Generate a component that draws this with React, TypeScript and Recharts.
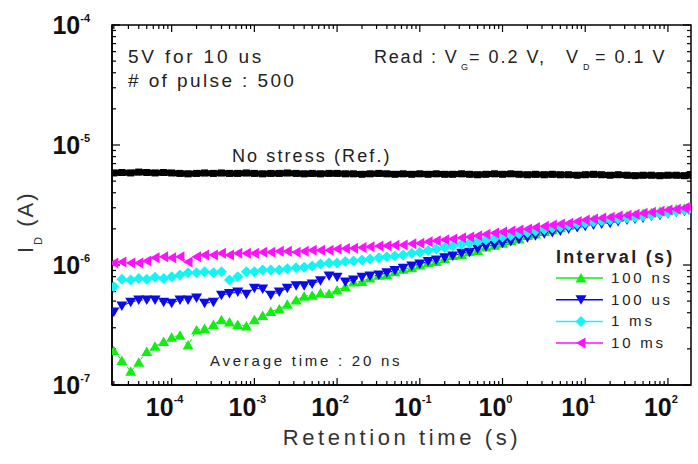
import React from "react";
import { LineChart, Line, XAxis, YAxis, Customized } from "recharts";

// retention time (s), roughly 10 points per decade
const times = [
  2e-5, 2.5e-5, 3.2e-5, 4e-5, 5e-5, 6.3e-5, 8e-5,
  1e-4, 1.26e-4, 1.58e-4, 2e-4, 2.5e-4, 3.2e-4, 4e-4, 5e-4, 6.3e-4, 8e-4,
  1e-3, 1.26e-3, 1.58e-3, 2e-3, 2.5e-3, 3.2e-3, 4e-3, 5e-3, 6.3e-3, 8e-3,
  1e-2, 1.26e-2, 1.58e-2, 2e-2, 2.5e-2, 3.2e-2, 4e-2, 5e-2, 6.3e-2, 8e-2,
  1e-1, 1.26e-1, 1.58e-1, 2e-1, 2.5e-1, 3.2e-1, 4e-1, 5e-1, 6.3e-1, 8e-1,
  1, 1.26, 1.58, 2, 2.5, 3.2, 4, 5, 6.3, 8,
  10, 12.6, 15.8, 20, 25, 32, 40, 50, 63, 80,
  100, 126, 158, 180,
];

const refNoStress = [
  5.85e-6, 5.9e-6, 5.85e-6, 5.95e-6, 5.9e-6, 5.85e-6, 5.9e-6,
  5.85e-6, 5.8e-6, 5.75e-6, 5.8e-6, 5.85e-6, 5.8e-6, 5.85e-6, 5.8e-6, 5.8e-6, 5.85e-6,
  5.8e-6, 5.75e-6, 5.8e-6, 5.8e-6, 5.85e-6, 5.8e-6, 5.75e-6, 5.8e-6, 5.75e-6, 5.8e-6,
  5.8e-6, 5.75e-6, 5.75e-6, 5.7e-6, 5.75e-6, 5.8e-6, 5.75e-6, 5.7e-6, 5.75e-6, 5.7e-6,
  5.75e-6, 5.7e-6, 5.75e-6, 5.7e-6, 5.7e-6, 5.75e-6, 5.7e-6, 5.65e-6, 5.7e-6, 5.75e-6,
  5.7e-6, 5.75e-6, 5.7e-6, 5.65e-6, 5.7e-6, 5.65e-6, 5.7e-6, 5.65e-6, 5.65e-6, 5.6e-6,
  5.65e-6, 5.7e-6, 5.65e-6, 5.6e-6, 5.65e-6, 5.6e-6, 5.55e-6, 5.6e-6, 5.6e-6, 5.55e-6,
  5.6e-6, 5.6e-6, 5.55e-6, 5.6e-6,
];

const int100ns = [
  1.93e-7, 1.6e-7, 1.3e-7, 1.55e-7, 1.9e-7, 2.1e-7, 2.3e-7,
  2.5e-7, 2.6e-7, 2.15e-7, 2.87e-7, 2.95e-7, 3.2e-7, 3.5e-7, 3.35e-7, 3.2e-7, 3.1e-7,
  3.5e-7, 3.8e-7, 4.1e-7, 4.3e-7, 4.7e-7, 5.1e-7, 5.5e-7, 5.6e-7, 5.85e-7, 5.8e-7,
  6.2e-7, 6.6e-7, 7.2e-7, 7.3e-7, 7.8e-7, 8.2e-7, 8.3e-7, 8.8e-7, 9.2e-7, 9.5e-7,
  1.0e-6, 1.05e-6, 1.07e-6, 1.13e-6, 1.2e-6, 1.22e-6, 1.29e-6, 1.32e-6, 1.41e-6, 1.46e-6,
  1.52e-6, 1.6e-6, 1.65e-6, 1.76e-6, 1.81e-6, 1.9e-6, 1.97e-6, 2.04e-6, 2.13e-6, 2.2e-6,
  2.3e-6, 2.38e-6, 2.41e-6, 2.47e-6, 2.5e-6, 2.57e-6, 2.61e-6, 2.69e-6, 2.72e-6, 2.81e-6,
  2.86e-6, 2.93e-6, 2.97e-6, 3.05e-6,
];

const int100us = [
  4.05e-7, 4.55e-7, 4.9e-7, 5.1e-7, 5.1e-7, 5.1e-7, 4.9e-7,
  4.8e-7, 5.1e-7, 5.1e-7, 5.3e-7, 4.8e-7, 4.9e-7, 5.6e-7, 5.8e-7, 5.95e-7, 5.7e-7,
  6.4e-7, 6.3e-7, 5.6e-7, 5.95e-7, 6.4e-7, 6.7e-7, 6.7e-7, 6.95e-7, 7.4e-7, 8.1e-7,
  7.9e-7, 7.2e-7, 7.5e-7, 7.9e-7, 8.1e-7, 8.25e-7, 8.6e-7, 9.0e-7, 9.4e-7, 9.8e-7,
  1.02e-6, 1.07e-6, 1.1e-6, 1.15e-6, 1.19e-6, 1.25e-6, 1.28e-6, 1.36e-6, 1.42e-6, 1.47e-6,
  1.52e-6, 1.57e-6, 1.64e-6, 1.69e-6, 1.75e-6, 1.82e-6, 1.87e-6, 1.92e-6, 2.0e-6, 2.05e-6,
  2.1e-6, 2.15e-6, 2.2e-6, 2.23e-6, 2.3e-6, 2.37e-6, 2.42e-6, 2.46e-6, 2.55e-6, 2.6e-6,
  2.68e-6, 2.75e-6, 2.8e-6, 2.87e-6,
];

const int1ms = [
  6.6e-7, 7.6e-7, 7.5e-7, 7.7e-7, 7.6e-7, 7.9e-7, 7.7e-7,
  8.0e-7, 8.25e-7, 8.6e-7, 8.6e-7, 8.8e-7, 8.6e-7, 8.8e-7, 7.5e-7, 8.0e-7, 8.8e-7,
  8.8e-7, 9.1e-7, 9.1e-7, 9.1e-7, 9.3e-7, 9.5e-7, 9.6e-7, 9.8e-7, 1.02e-6, 1.04e-6,
  1.04e-6, 1.07e-6, 1.08e-6, 1.1e-6, 1.12e-6, 1.15e-6, 1.17e-6, 1.19e-6, 1.21e-6, 1.25e-6,
  1.28e-6, 1.32e-6, 1.36e-6, 1.4e-6, 1.44e-6, 1.49e-6, 1.52e-6, 1.57e-6, 1.62e-6, 1.66e-6,
  1.71e-6, 1.76e-6, 1.82e-6, 1.87e-6, 1.92e-6, 1.98e-6, 2.03e-6, 2.07e-6, 2.13e-6, 2.2e-6,
  2.23e-6, 2.28e-6, 2.33e-6, 2.37e-6, 2.42e-6, 2.46e-6, 2.5e-6, 2.56e-6, 2.6e-6, 2.68e-6,
  2.73e-6, 2.8e-6, 2.87e-6, 2.92e-6,
];

const int10ms = [
  1.04e-6, 1.06e-6, 1.04e-6, 1.04e-6, 1.08e-6, 1.15e-6, 1.17e-6,
  1.15e-6, 1.17e-6, 1.06e-6, 1.17e-6, 1.21e-6, 1.21e-6, 1.25e-6, 1.21e-6, 1.25e-6, 1.25e-6,
  1.25e-6, 1.28e-6, 1.28e-6, 1.3e-6, 1.3e-6, 1.28e-6, 1.3e-6, 1.33e-6, 1.33e-6, 1.33e-6,
  1.36e-6, 1.37e-6, 1.38e-6, 1.4e-6, 1.42e-6, 1.44e-6, 1.45e-6, 1.46e-6, 1.47e-6, 1.5e-6,
  1.52e-6, 1.56e-6, 1.59e-6, 1.62e-6, 1.65e-6, 1.69e-6, 1.71e-6, 1.75e-6, 1.8e-6, 1.85e-6,
  1.88e-6, 1.92e-6, 1.96e-6, 2.0e-6, 2.05e-6, 2.1e-6, 2.15e-6, 2.2e-6, 2.23e-6, 2.3e-6,
  2.37e-6, 2.42e-6, 2.46e-6, 2.5e-6, 2.56e-6, 2.6e-6, 2.65e-6, 2.7e-6, 2.75e-6, 2.8e-6,
  2.87e-6, 2.92e-6, 2.98e-6, 3.04e-6,
];

const legendItems = [
  { key: "ns100", label: "100 ns", color: "#11ee11", shape: "up" },
  { key: "us100", label: "100 us", color: "#0a0aee", shape: "down" },
  { key: "ms1", label: "1 ms", color: "#11f5f5", shape: "diamond" },
  { key: "ms10", label: "10 ms", color: "#ff11ff", shape: "left" },
];

const xDomain = [1.9e-5, 190];
const yDomain = [1e-7, 1e-4];

// plot box (chart margins + axis sizes)
const BOX = { left: 112, top: 25, width: 579, height: 360 };

const withMinor = (lo: number, hi: number, dMin: number, dMax: number) => {
  const out: number[] = [];
  for (let d = dMin; d <= dMax; d++) {
    for (let m = 1; m <= 9; m++) {
      const v = Number((m * Math.pow(10, d)).toPrecision(6));
      if (v >= lo && v <= hi) out.push(v);
    }
  }
  return out;
};
const xTicks = withMinor(xDomain[0], xDomain[1], -5, 2);
const yTicks = withMinor(yDomain[0], yDomain[1], -7, -4);

const rows = times.map((t, i) => ({
  t,
  noStress: refNoStress[i],
  ns100: int100ns[i],
  us100: int100us[i],
  ms1: int1ms[i],
  ms10: int10ms[i],
}));

const FONT = "'Liberation Sans', Arial, sans-serif";
const isMajor = (v: number) => Math.abs(Math.log10(v) - Math.round(Math.log10(v))) < 1e-6;
const expOf = (v: number) => Math.round(Math.log10(v));

function markerPath(shape: string, cx: number, cy: number) {
  switch (shape) {
    case "up":
      return `M${cx - 5.5},${cy + 4.5} L${cx + 5.5},${cy + 4.5} L${cx},${cy - 5} Z`;
    case "down":
      return `M${cx - 5.5},${cy - 4.5} L${cx + 5.5},${cy - 4.5} L${cx},${cy + 5} Z`;
    case "diamond":
      return `M${cx},${cy - 5.5} L${cx + 5.5},${cy} L${cx},${cy + 5.5} L${cx - 5.5},${cy} Z`;
    default:
      return `M${cx - 5},${cy} L${cx + 4.5},${cy - 5.5} L${cx + 4.5},${cy + 5.5} Z`;
  }
}

const makeDot = (shape: string, color: string) => (p: any) => (
  <path key={`${shape}-${p.index}`} d={markerPath(shape, p.cx, p.cy)} fill={color} />
);

const squareDot = (p: any) => (
  <rect key={`sq-${p.index}`} x={p.cx - 3.5} y={p.cy - 3.5} width={7} height={7} fill="#000" />
);

function BottomTick({ x, y, payload }: any) {
  const v = payload.value;
  if (!isMajor(v)) return <g />;
  return (
    <text x={x - 7} y={y + 31} textAnchor="middle" fontFamily={FONT} fontWeight="bold" fontSize={25} fill="#111">
      10
      <tspan fontSize={11} dy={-13}>{expOf(v)}</tspan>
    </text>
  );
}

function LeftTick({ x, y, payload }: any) {
  const v = payload.value;
  if (!isMajor(v)) return <g />;
  return (
    <text x={x - 22} y={y + 9} textAnchor="end" fontFamily={FONT} fontWeight="bold" fontSize={25} fill="#111">
      10
      <tspan fontSize={11} dy={-12}>{expOf(v)}</tspan>
    </text>
  );
}

// log position inside the plot box, same mapping as the axes' log scales
const xPos = (v: number) =>
  BOX.left + (BOX.width * (Math.log10(v) - Math.log10(xDomain[0]))) / (Math.log10(xDomain[1]) - Math.log10(xDomain[0]));
const yPos = (v: number) =>
  BOX.top + BOX.height - (BOX.height * (Math.log10(v) - Math.log10(yDomain[0]))) / (Math.log10(yDomain[1]) - Math.log10(yDomain[0]));

function Frame() {
  const bottom = BOX.top + BOX.height;
  const right = BOX.left + BOX.width;
  return (
    <g>
      <rect x={BOX.left} y={BOX.top} width={BOX.width} height={BOX.height} fill="none" stroke="#000" strokeWidth={1.5} />
      {xTicks.map((v) => {
        const x = xPos(v);
        const len = isMajor(v) ? 7 : 4;
        return (
          <g key={`xt-${v}`}>
            <line x1={x} x2={x} y1={bottom} y2={bottom - len} stroke="#000" strokeWidth={1.2} />
            <line x1={x} x2={x} y1={BOX.top} y2={BOX.top + len} stroke="#000" strokeWidth={1.2} />
          </g>
        );
      })}
      {yTicks.map((v) => {
        const y = yPos(v);
        const len = isMajor(v) ? 8 : 4;
        return (
          <g key={`yt-${v}`}>
            <line x1={BOX.left} x2={BOX.left + len} y1={y} y2={y} stroke="#000" strokeWidth={1.2} />
            <line x1={right} x2={right - len} y1={y} y2={y} stroke="#000" strokeWidth={1.2} />
          </g>
        );
      })}
    </g>
  );
}

function Annotations() {
  const txt = { fontFamily: FONT, fill: "#222" } as const;
  return (
    <g>
      <Frame />
      <text x={128} y={63} fontSize={19} letterSpacing={2.8} {...txt}>5V for 10 us</text>
      <text x={128} y={87} fontSize={19} letterSpacing={2.4} {...txt}># of pulse : 500</text>

      <text x={374} y={63} fontSize={18} letterSpacing={1.8} {...txt}>Read : V</text>
      <text x={461} y={70} fontSize={9} {...txt}>G</text>
      <text x={469} y={63} fontSize={18} letterSpacing={2} {...txt}>= 0.2 V,</text>
      <text x={566} y={63} fontSize={18} {...txt}>V</text>
      <text x={583} y={70} fontSize={9} {...txt}>D</text>
      <text x={595} y={63} fontSize={18} letterSpacing={2} {...txt}>= 0.1 V</text>

      <text x={232} y={162} fontSize={18} letterSpacing={2.1} {...txt}>No stress (Ref.)</text>
      <text x={210} y={366} fontSize={15} letterSpacing={2.75} {...txt}>Average time : 20 ns</text>

      <text x={556} y={263} fontSize={18} fontWeight="bold" letterSpacing={2.3} {...txt}>Interval (s)</text>
      {legendItems.map((it, i) => {
        const cy = 278 + i * 21.7;
        return (
          <g key={it.key}>
            <line x1={556} x2={603} y1={cy} y2={cy} stroke={it.color} strokeWidth={1.5} />
            <path d={markerPath(it.shape, 581, cy)} fill={it.color} />
            <text x={611} y={cy + 5} fontSize={15} letterSpacing={2.8} {...txt}>{it.label}</text>
          </g>
        );
      })}

      <text x={402} y={445} textAnchor="middle" fontSize={22} letterSpacing={3.6} fontFamily={FONT} fill="#333">
        Retention time (s)
      </text>
      <text transform="translate(33,253) rotate(-90)" fontSize={22} letterSpacing={2} fontFamily={FONT} fill="#333">
        I
        <tspan fontSize={11} dy={9}>D</tspan>
        <tspan dy={-9}> (A)</tspan>
      </text>
    </g>
  );
}

export default function App() {
  return (
    <div style={{ position: "absolute", left: 0, top: 0, width: 698, height: 464, background: "#fff" }}>
      <LineChart width={698} height={464} data={rows} margin={{ top: 25, right: 7, bottom: 0, left: 0 }}>
        <XAxis
          dataKey="t"
          type="number"
          scale="log"
          domain={xDomain}
          allowDataOverflow
          ticks={xTicks}
          interval={0}
          height={79}
          tickSize={0}
          tickMargin={0}
          axisLine={{ stroke: "#000", strokeWidth: 1.5 }}
          tickLine={false}
          tick={(p: any) => <BottomTick {...p} />}
        />
        <YAxis
          type="number"
          scale="log"
          domain={yDomain}
          allowDataOverflow
          ticks={yTicks}
          interval={0}
          width={112}
          tickSize={0}
          tickMargin={0}
          axisLine={{ stroke: "#000", strokeWidth: 1.5 }}
          tickLine={false}
          tick={(p: any) => <LeftTick {...p} />}
        />
        <Line dataKey="noStress" stroke="#000" strokeWidth={6} dot={squareDot} isAnimationActive={false} />
        <Line dataKey="ns100" stroke="#11ee11" strokeWidth={1} strokeDasharray="4 3" dot={makeDot("up", "#11ee11")} isAnimationActive={false} />
        <Line dataKey="us100" stroke="#0a0aee" strokeWidth={1} strokeDasharray="4 3" dot={makeDot("down", "#0a0aee")} isAnimationActive={false} />
        <Line dataKey="ms1" stroke="#11f5f5" strokeWidth={1} strokeDasharray="4 3" dot={makeDot("diamond", "#11f5f5")} isAnimationActive={false} />
        <Line dataKey="ms10" stroke="#ff11ff" strokeWidth={1} strokeDasharray="4 3" dot={makeDot("left", "#ff11ff")} isAnimationActive={false} />
        <Customized component={Annotations} />
      </LineChart>
    </div>
  );
}
